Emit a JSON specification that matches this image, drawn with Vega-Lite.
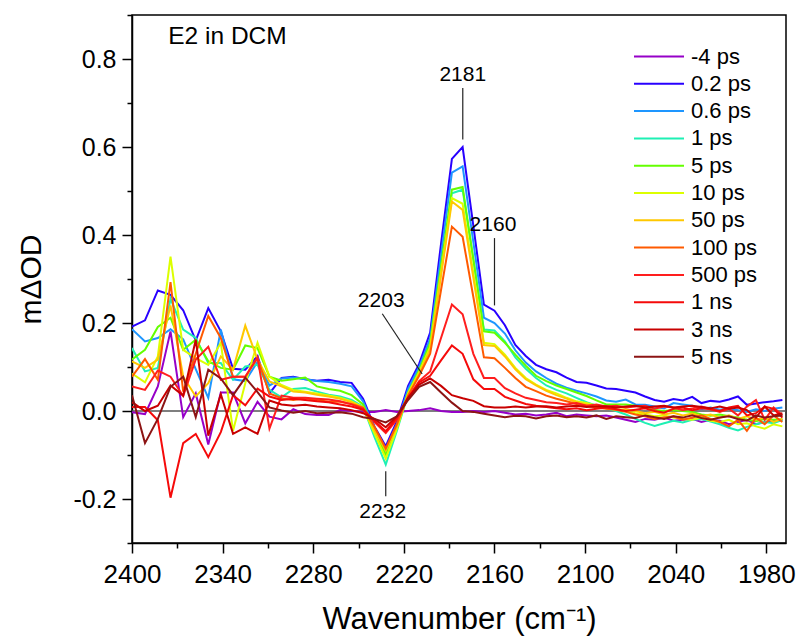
{
  "$schema": "https://vega.github.io/schema/vega-lite/v6.json",
  "width": 654,
  "height": 528,
  "autosize": {"type": "none"},
  "padding": {"left": 132, "top": 15, "right": 11, "bottom": 99},
  "background": "white",
  "config": {
    "font": "Liberation Sans",
    "view": {"stroke": "black", "strokeWidth": 1.5},
    "axis": {"grid": false, "domainColor": "black", "domainWidth": 1.5, "tickColor": "black", "tickWidth": 1.5, "labelColor": "black", "titleColor": "black", "labelFont": "Liberation Sans", "titleFont": "Liberation Sans", "titleFontWeight": "normal"}
  },
  "datasets": {
    "spectra": [
{"s":"-4 ps","x":2400,"y":-0.003},{"s":"-4 ps","x":2391.4,"y":-0.007},{"s":"-4 ps","x":2382.9,"y":0.056},{"s":"-4 ps","x":2374.5,"y":0.181},{"s":"-4 ps","x":2366.1,"y":-0.014},{"s":"-4 ps","x":2357.8,"y":0.04},{"s":"-4 ps","x":2349.5,"y":-0.076},{"s":"-4 ps","x":2341.2,"y":0.042},{"s":"-4 ps","x":2333.1,"y":0.042},{"s":"-4 ps","x":2325.0,"y":-0.028},{"s":"-4 ps","x":2316.9,"y":0.021},{"s":"-4 ps","x":2309.0,"y":-0.013},{"s":"-4 ps","x":2301.0,"y":-0.019},{"s":"-4 ps","x":2293.2,"y":0.004},{"s":"-4 ps","x":2285.3,"y":-0.007},{"s":"-4 ps","x":2277.6,"y":-0.009},{"s":"-4 ps","x":2269.8,"y":-0.009},{"s":"-4 ps","x":2262.2,"y":0.002},{"s":"-4 ps","x":2254.6,"y":0.0},{"s":"-4 ps","x":2247.0,"y":-0.002},{"s":"-4 ps","x":2239.5,"y":-0.002},{"s":"-4 ps","x":2232.0,"y":0.002},{"s":"-4 ps","x":2224.6,"y":-0.002},{"s":"-4 ps","x":2217.2,"y":0.0},{"s":"-4 ps","x":2209.9,"y":0.002},{"s":"-4 ps","x":2202.6,"y":0.006},{"s":"-4 ps","x":2195.4,"y":0.0},{"s":"-4 ps","x":2188.2,"y":-0.002},{"s":"-4 ps","x":2181.1,"y":-0.002},{"s":"-4 ps","x":2174.0,"y":0.0},{"s":"-4 ps","x":2167.0,"y":-0.002},{"s":"-4 ps","x":2160.0,"y":0.0},{"s":"-4 ps","x":2153.1,"y":-0.004},{"s":"-4 ps","x":2146.2,"y":-0.008},{"s":"-4 ps","x":2139.3,"y":-0.006},{"s":"-4 ps","x":2132.5,"y":-0.01},{"s":"-4 ps","x":2125.7,"y":-0.008},{"s":"-4 ps","x":2119.0,"y":-0.004},{"s":"-4 ps","x":2112.3,"y":-0.012},{"s":"-4 ps","x":2105.7,"y":-0.008},{"s":"-4 ps","x":2099.1,"y":-0.01},{"s":"-4 ps","x":2092.5,"y":-0.012},{"s":"-4 ps","x":2086.0,"y":-0.01},{"s":"-4 ps","x":2079.5,"y":-0.015},{"s":"-4 ps","x":2073.1,"y":-0.02},{"s":"-4 ps","x":2066.7,"y":-0.025},{"s":"-4 ps","x":2060.3,"y":-0.018},{"s":"-4 ps","x":2054.0,"y":-0.02},{"s":"-4 ps","x":2047.7,"y":-0.015},{"s":"-4 ps","x":2041.5,"y":-0.022},{"s":"-4 ps","x":2035.3,"y":-0.02},{"s":"-4 ps","x":2029.1,"y":-0.018},{"s":"-4 ps","x":2023.0,"y":-0.025},{"s":"-4 ps","x":2016.9,"y":-0.02},{"s":"-4 ps","x":2010.8,"y":-0.022},{"s":"-4 ps","x":2004.8,"y":-0.03},{"s":"-4 ps","x":1998.8,"y":-0.025},{"s":"-4 ps","x":1992.9,"y":-0.02},{"s":"-4 ps","x":1986.9,"y":-0.03},{"s":"-4 ps","x":1981.1,"y":-0.025},{"s":"-4 ps","x":1975.2,"y":-0.022},{"s":"-4 ps","x":1969.4,"y":-0.02},
{"s":"0.2 ps","x":2400,"y":0.192},{"s":"0.2 ps","x":2391.4,"y":0.206},{"s":"0.2 ps","x":2382.9,"y":0.274},{"s":"0.2 ps","x":2374.5,"y":0.264},{"s":"0.2 ps","x":2366.1,"y":0.229},{"s":"0.2 ps","x":2357.8,"y":0.16},{"s":"0.2 ps","x":2349.5,"y":0.234},{"s":"0.2 ps","x":2341.2,"y":0.181},{"s":"0.2 ps","x":2333.1,"y":0.096},{"s":"0.2 ps","x":2325.0,"y":0.094},{"s":"0.2 ps","x":2316.9,"y":0.125},{"s":"0.2 ps","x":2309.0,"y":0.04},{"s":"0.2 ps","x":2301.0,"y":0.075},{"s":"0.2 ps","x":2293.2,"y":0.078},{"s":"0.2 ps","x":2285.3,"y":0.072},{"s":"0.2 ps","x":2277.6,"y":0.069},{"s":"0.2 ps","x":2269.8,"y":0.071},{"s":"0.2 ps","x":2262.2,"y":0.066},{"s":"0.2 ps","x":2254.6,"y":0.064},{"s":"0.2 ps","x":2247.0,"y":0.028},{"s":"0.2 ps","x":2239.5,"y":-0.035},{"s":"0.2 ps","x":2232.0,"y":-0.08},{"s":"0.2 ps","x":2224.6,"y":-0.023},{"s":"0.2 ps","x":2217.2,"y":0.057},{"s":"0.2 ps","x":2209.9,"y":0.107},{"s":"0.2 ps","x":2202.6,"y":0.178},{"s":"0.2 ps","x":2195.4,"y":0.38},{"s":"0.2 ps","x":2188.2,"y":0.573},{"s":"0.2 ps","x":2181.1,"y":0.6},{"s":"0.2 ps","x":2174.0,"y":0.421},{"s":"0.2 ps","x":2167.0,"y":0.242},{"s":"0.2 ps","x":2160.0,"y":0.228},{"s":"0.2 ps","x":2153.1,"y":0.195},{"s":"0.2 ps","x":2146.2,"y":0.15},{"s":"0.2 ps","x":2139.3,"y":0.125},{"s":"0.2 ps","x":2132.5,"y":0.105},{"s":"0.2 ps","x":2125.7,"y":0.095},{"s":"0.2 ps","x":2119.0,"y":0.088},{"s":"0.2 ps","x":2112.3,"y":0.076},{"s":"0.2 ps","x":2105.7,"y":0.066},{"s":"0.2 ps","x":2099.1,"y":0.064},{"s":"0.2 ps","x":2092.5,"y":0.058},{"s":"0.2 ps","x":2086.0,"y":0.051},{"s":"0.2 ps","x":2079.5,"y":0.05},{"s":"0.2 ps","x":2073.1,"y":0.046},{"s":"0.2 ps","x":2066.7,"y":0.042},{"s":"0.2 ps","x":2060.3,"y":0.033},{"s":"0.2 ps","x":2054.0,"y":0.025},{"s":"0.2 ps","x":2047.7,"y":0.021},{"s":"0.2 ps","x":2041.5,"y":0.027},{"s":"0.2 ps","x":2035.3,"y":0.024},{"s":"0.2 ps","x":2029.1,"y":0.032},{"s":"0.2 ps","x":2023.0,"y":0.018},{"s":"0.2 ps","x":2016.9,"y":0.023},{"s":"0.2 ps","x":2010.8,"y":0.021},{"s":"0.2 ps","x":2004.8,"y":0.026},{"s":"0.2 ps","x":1998.8,"y":0.033},{"s":"0.2 ps","x":1992.9,"y":0.014},{"s":"0.2 ps","x":1986.9,"y":0.017},{"s":"0.2 ps","x":1981.1,"y":0.02},{"s":"0.2 ps","x":1975.2,"y":0.022},{"s":"0.2 ps","x":1969.4,"y":0.025},
{"s":"0.6 ps","x":2400,"y":0.186},{"s":"0.6 ps","x":2391.4,"y":0.158},{"s":"0.6 ps","x":2382.9,"y":0.166},{"s":"0.6 ps","x":2374.5,"y":0.186},{"s":"0.6 ps","x":2366.1,"y":0.163},{"s":"0.6 ps","x":2357.8,"y":0.095},{"s":"0.6 ps","x":2349.5,"y":0.03},{"s":"0.6 ps","x":2341.2,"y":0.185},{"s":"0.6 ps","x":2333.1,"y":0.072},{"s":"0.6 ps","x":2325.0,"y":0.068},{"s":"0.6 ps","x":2316.9,"y":0.112},{"s":"0.6 ps","x":2309.0,"y":0.058},{"s":"0.6 ps","x":2301.0,"y":0.074},{"s":"0.6 ps","x":2293.2,"y":0.076},{"s":"0.6 ps","x":2285.3,"y":0.072},{"s":"0.6 ps","x":2277.6,"y":0.068},{"s":"0.6 ps","x":2269.8,"y":0.066},{"s":"0.6 ps","x":2262.2,"y":0.062},{"s":"0.6 ps","x":2254.6,"y":0.056},{"s":"0.6 ps","x":2247.0,"y":0.022},{"s":"0.6 ps","x":2239.5,"y":-0.038},{"s":"0.6 ps","x":2232.0,"y":-0.09},{"s":"0.6 ps","x":2224.6,"y":-0.03},{"s":"0.6 ps","x":2217.2,"y":0.05},{"s":"0.6 ps","x":2209.9,"y":0.1},{"s":"0.6 ps","x":2202.6,"y":0.165},{"s":"0.6 ps","x":2195.4,"y":0.354},{"s":"0.6 ps","x":2188.2,"y":0.542},{"s":"0.6 ps","x":2181.1,"y":0.556},{"s":"0.6 ps","x":2174.0,"y":0.384},{"s":"0.6 ps","x":2167.0,"y":0.212},{"s":"0.6 ps","x":2160.0,"y":0.2},{"s":"0.6 ps","x":2153.1,"y":0.176},{"s":"0.6 ps","x":2146.2,"y":0.138},{"s":"0.6 ps","x":2139.3,"y":0.11},{"s":"0.6 ps","x":2132.5,"y":0.09},{"s":"0.6 ps","x":2125.7,"y":0.075},{"s":"0.6 ps","x":2119.0,"y":0.062},{"s":"0.6 ps","x":2112.3,"y":0.053},{"s":"0.6 ps","x":2105.7,"y":0.046},{"s":"0.6 ps","x":2099.1,"y":0.04},{"s":"0.6 ps","x":2092.5,"y":0.033},{"s":"0.6 ps","x":2086.0,"y":0.024},{"s":"0.6 ps","x":2079.5,"y":0.021},{"s":"0.6 ps","x":2073.1,"y":0.026},{"s":"0.6 ps","x":2066.7,"y":0.015},{"s":"0.6 ps","x":2060.3,"y":0.014},{"s":"0.6 ps","x":2054.0,"y":0.01},{"s":"0.6 ps","x":2047.7,"y":0.006},{"s":"0.6 ps","x":2041.5,"y":0.018},{"s":"0.6 ps","x":2035.3,"y":0.015},{"s":"0.6 ps","x":2029.1,"y":0.012},{"s":"0.6 ps","x":2023.0,"y":0.004},{"s":"0.6 ps","x":2016.9,"y":0.008},{"s":"0.6 ps","x":2010.8,"y":0.003},{"s":"0.6 ps","x":2004.8,"y":0.006},{"s":"0.6 ps","x":1998.8,"y":0.002},{"s":"0.6 ps","x":1992.9,"y":-0.002},{"s":"0.6 ps","x":1986.9,"y":0.004},{"s":"0.6 ps","x":1981.1,"y":0.0},{"s":"0.6 ps","x":1975.2,"y":0.005},{"s":"0.6 ps","x":1969.4,"y":0.008},
{"s":"1 ps","x":2400,"y":0.143},{"s":"1 ps","x":2391.4,"y":0.09},{"s":"1 ps","x":2382.9,"y":0.098},{"s":"1 ps","x":2374.5,"y":0.255},{"s":"1 ps","x":2366.1,"y":0.185},{"s":"1 ps","x":2357.8,"y":0.166},{"s":"1 ps","x":2349.5,"y":0.109},{"s":"1 ps","x":2341.2,"y":0.109},{"s":"1 ps","x":2333.1,"y":0.071},{"s":"1 ps","x":2325.0,"y":0.101},{"s":"1 ps","x":2316.9,"y":0.105},{"s":"1 ps","x":2309.0,"y":0.048},{"s":"1 ps","x":2301.0,"y":0.031},{"s":"1 ps","x":2293.2,"y":0.05},{"s":"1 ps","x":2285.3,"y":0.052},{"s":"1 ps","x":2277.6,"y":0.044},{"s":"1 ps","x":2269.8,"y":0.037},{"s":"1 ps","x":2262.2,"y":0.033},{"s":"1 ps","x":2254.6,"y":0.025},{"s":"1 ps","x":2247.0,"y":0.01},{"s":"1 ps","x":2239.5,"y":-0.059},{"s":"1 ps","x":2232.0,"y":-0.122},{"s":"1 ps","x":2224.6,"y":-0.045},{"s":"1 ps","x":2217.2,"y":0.038},{"s":"1 ps","x":2209.9,"y":0.088},{"s":"1 ps","x":2202.6,"y":0.15},{"s":"1 ps","x":2195.4,"y":0.322},{"s":"1 ps","x":2188.2,"y":0.495},{"s":"1 ps","x":2181.1,"y":0.503},{"s":"1 ps","x":2174.0,"y":0.344},{"s":"1 ps","x":2167.0,"y":0.185},{"s":"1 ps","x":2160.0,"y":0.183},{"s":"1 ps","x":2153.1,"y":0.158},{"s":"1 ps","x":2146.2,"y":0.122},{"s":"1 ps","x":2139.3,"y":0.096},{"s":"1 ps","x":2132.5,"y":0.075},{"s":"1 ps","x":2125.7,"y":0.058},{"s":"1 ps","x":2119.0,"y":0.048},{"s":"1 ps","x":2112.3,"y":0.04},{"s":"1 ps","x":2105.7,"y":0.03},{"s":"1 ps","x":2099.1,"y":0.02},{"s":"1 ps","x":2092.5,"y":0.012},{"s":"1 ps","x":2086.0,"y":0.006},{"s":"1 ps","x":2079.5,"y":0.0},{"s":"1 ps","x":2073.1,"y":-0.008},{"s":"1 ps","x":2066.7,"y":-0.018},{"s":"1 ps","x":2060.3,"y":-0.027},{"s":"1 ps","x":2054.0,"y":-0.034},{"s":"1 ps","x":2047.7,"y":-0.028},{"s":"1 ps","x":2041.5,"y":-0.022},{"s":"1 ps","x":2035.3,"y":-0.026},{"s":"1 ps","x":2029.1,"y":-0.02},{"s":"1 ps","x":2023.0,"y":-0.018},{"s":"1 ps","x":2016.9,"y":-0.024},{"s":"1 ps","x":2010.8,"y":-0.03},{"s":"1 ps","x":2004.8,"y":-0.038},{"s":"1 ps","x":1998.8,"y":-0.044},{"s":"1 ps","x":1992.9,"y":-0.036},{"s":"1 ps","x":1986.9,"y":-0.03},{"s":"1 ps","x":1981.1,"y":-0.025},{"s":"1 ps","x":1975.2,"y":-0.028},{"s":"1 ps","x":1969.4,"y":-0.02},
{"s":"5 ps","x":2400,"y":0.117},{"s":"5 ps","x":2391.4,"y":0.139},{"s":"5 ps","x":2382.9,"y":0.191},{"s":"5 ps","x":2374.5,"y":0.212},{"s":"5 ps","x":2366.1,"y":0.139},{"s":"5 ps","x":2357.8,"y":0.162},{"s":"5 ps","x":2349.5,"y":0.113},{"s":"5 ps","x":2341.2,"y":0.098},{"s":"5 ps","x":2333.1,"y":0.094},{"s":"5 ps","x":2325.0,"y":0.149},{"s":"5 ps","x":2316.9,"y":0.143},{"s":"5 ps","x":2309.0,"y":0.078},{"s":"5 ps","x":2301.0,"y":0.069},{"s":"5 ps","x":2293.2,"y":0.072},{"s":"5 ps","x":2285.3,"y":0.076},{"s":"5 ps","x":2277.6,"y":0.056},{"s":"5 ps","x":2269.8,"y":0.05},{"s":"5 ps","x":2262.2,"y":0.046},{"s":"5 ps","x":2254.6,"y":0.036},{"s":"5 ps","x":2247.0,"y":0.015},{"s":"5 ps","x":2239.5,"y":-0.043},{"s":"5 ps","x":2232.0,"y":-0.1},{"s":"5 ps","x":2224.6,"y":-0.038},{"s":"5 ps","x":2217.2,"y":0.042},{"s":"5 ps","x":2209.9,"y":0.092},{"s":"5 ps","x":2202.6,"y":0.155},{"s":"5 ps","x":2195.4,"y":0.33},{"s":"5 ps","x":2188.2,"y":0.503},{"s":"5 ps","x":2181.1,"y":0.509},{"s":"5 ps","x":2174.0,"y":0.345},{"s":"5 ps","x":2167.0,"y":0.181},{"s":"5 ps","x":2160.0,"y":0.178},{"s":"5 ps","x":2153.1,"y":0.155},{"s":"5 ps","x":2146.2,"y":0.128},{"s":"5 ps","x":2139.3,"y":0.103},{"s":"5 ps","x":2132.5,"y":0.08},{"s":"5 ps","x":2125.7,"y":0.068},{"s":"5 ps","x":2119.0,"y":0.058},{"s":"5 ps","x":2112.3,"y":0.05},{"s":"5 ps","x":2105.7,"y":0.042},{"s":"5 ps","x":2099.1,"y":0.034},{"s":"5 ps","x":2092.5,"y":0.024},{"s":"5 ps","x":2086.0,"y":0.015},{"s":"5 ps","x":2079.5,"y":0.015},{"s":"5 ps","x":2073.1,"y":0.015},{"s":"5 ps","x":2066.7,"y":0.012},{"s":"5 ps","x":2060.3,"y":0.008},{"s":"5 ps","x":2054.0,"y":0.002},{"s":"5 ps","x":2047.7,"y":0.0},{"s":"5 ps","x":2041.5,"y":0.002},{"s":"5 ps","x":2035.3,"y":0.0},{"s":"5 ps","x":2029.1,"y":-0.002},{"s":"5 ps","x":2023.0,"y":-0.008},{"s":"5 ps","x":2016.9,"y":-0.011},{"s":"5 ps","x":2010.8,"y":-0.008},{"s":"5 ps","x":2004.8,"y":-0.012},{"s":"5 ps","x":1998.8,"y":-0.015},{"s":"5 ps","x":1992.9,"y":-0.02},{"s":"5 ps","x":1986.9,"y":-0.023},{"s":"5 ps","x":1981.1,"y":-0.018},{"s":"5 ps","x":1975.2,"y":-0.02},{"s":"5 ps","x":1969.4,"y":-0.019},
{"s":"10 ps","x":2400,"y":0.085},{"s":"10 ps","x":2391.4,"y":0.065},{"s":"10 ps","x":2382.9,"y":0.124},{"s":"10 ps","x":2374.5,"y":0.351},{"s":"10 ps","x":2366.1,"y":0.139},{"s":"10 ps","x":2357.8,"y":0.12},{"s":"10 ps","x":2349.5,"y":0.105},{"s":"10 ps","x":2341.2,"y":0.155},{"s":"10 ps","x":2333.1,"y":-0.045},{"s":"10 ps","x":2325.0,"y":0.063},{"s":"10 ps","x":2316.9,"y":0.155},{"s":"10 ps","x":2309.0,"y":0.078},{"s":"10 ps","x":2301.0,"y":0.059},{"s":"10 ps","x":2293.2,"y":0.048},{"s":"10 ps","x":2285.3,"y":0.044},{"s":"10 ps","x":2277.6,"y":0.04},{"s":"10 ps","x":2269.8,"y":0.035},{"s":"10 ps","x":2262.2,"y":0.03},{"s":"10 ps","x":2254.6,"y":0.022},{"s":"10 ps","x":2247.0,"y":0.008},{"s":"10 ps","x":2239.5,"y":-0.051},{"s":"10 ps","x":2232.0,"y":-0.108},{"s":"10 ps","x":2224.6,"y":-0.04},{"s":"10 ps","x":2217.2,"y":0.04},{"s":"10 ps","x":2209.9,"y":0.088},{"s":"10 ps","x":2202.6,"y":0.145},{"s":"10 ps","x":2195.4,"y":0.314},{"s":"10 ps","x":2188.2,"y":0.484},{"s":"10 ps","x":2181.1,"y":0.471},{"s":"10 ps","x":2174.0,"y":0.313},{"s":"10 ps","x":2167.0,"y":0.155},{"s":"10 ps","x":2160.0,"y":0.152},{"s":"10 ps","x":2153.1,"y":0.128},{"s":"10 ps","x":2146.2,"y":0.098},{"s":"10 ps","x":2139.3,"y":0.075},{"s":"10 ps","x":2132.5,"y":0.06},{"s":"10 ps","x":2125.7,"y":0.048},{"s":"10 ps","x":2119.0,"y":0.04},{"s":"10 ps","x":2112.3,"y":0.03},{"s":"10 ps","x":2105.7,"y":0.022},{"s":"10 ps","x":2099.1,"y":0.018},{"s":"10 ps","x":2092.5,"y":0.012},{"s":"10 ps","x":2086.0,"y":0.008},{"s":"10 ps","x":2079.5,"y":0.004},{"s":"10 ps","x":2073.1,"y":0.0},{"s":"10 ps","x":2066.7,"y":-0.005},{"s":"10 ps","x":2060.3,"y":-0.008},{"s":"10 ps","x":2054.0,"y":-0.012},{"s":"10 ps","x":2047.7,"y":-0.01},{"s":"10 ps","x":2041.5,"y":-0.015},{"s":"10 ps","x":2035.3,"y":-0.018},{"s":"10 ps","x":2029.1,"y":-0.02},{"s":"10 ps","x":2023.0,"y":-0.015},{"s":"10 ps","x":2016.9,"y":-0.022},{"s":"10 ps","x":2010.8,"y":-0.025},{"s":"10 ps","x":2004.8,"y":-0.02},{"s":"10 ps","x":1998.8,"y":-0.03},{"s":"10 ps","x":1992.9,"y":-0.028},{"s":"10 ps","x":1986.9,"y":-0.035},{"s":"10 ps","x":1981.1,"y":-0.04},{"s":"10 ps","x":1975.2,"y":-0.03},{"s":"10 ps","x":1969.4,"y":-0.035},
{"s":"50 ps","x":2400,"y":0.113},{"s":"50 ps","x":2391.4,"y":0.098},{"s":"50 ps","x":2382.9,"y":0.117},{"s":"50 ps","x":2374.5,"y":0.24},{"s":"50 ps","x":2366.1,"y":0.078},{"s":"50 ps","x":2357.8,"y":0.033},{"s":"50 ps","x":2349.5,"y":0.063},{"s":"50 ps","x":2341.2,"y":0.124},{"s":"50 ps","x":2333.1,"y":0.094},{"s":"50 ps","x":2325.0,"y":0.194},{"s":"50 ps","x":2316.9,"y":0.117},{"s":"50 ps","x":2309.0,"y":0.067},{"s":"50 ps","x":2301.0,"y":0.056},{"s":"50 ps","x":2293.2,"y":0.044},{"s":"50 ps","x":2285.3,"y":0.042},{"s":"50 ps","x":2277.6,"y":0.037},{"s":"50 ps","x":2269.8,"y":0.033},{"s":"50 ps","x":2262.2,"y":0.028},{"s":"50 ps","x":2254.6,"y":0.02},{"s":"50 ps","x":2247.0,"y":0.008},{"s":"50 ps","x":2239.5,"y":-0.043},{"s":"50 ps","x":2232.0,"y":-0.09},{"s":"50 ps","x":2224.6,"y":-0.035},{"s":"50 ps","x":2217.2,"y":0.038},{"s":"50 ps","x":2209.9,"y":0.085},{"s":"50 ps","x":2202.6,"y":0.14},{"s":"50 ps","x":2195.4,"y":0.308},{"s":"50 ps","x":2188.2,"y":0.476},{"s":"50 ps","x":2181.1,"y":0.457},{"s":"50 ps","x":2174.0,"y":0.303},{"s":"50 ps","x":2167.0,"y":0.15},{"s":"50 ps","x":2160.0,"y":0.148},{"s":"50 ps","x":2153.1,"y":0.124},{"s":"50 ps","x":2146.2,"y":0.095},{"s":"50 ps","x":2139.3,"y":0.072},{"s":"50 ps","x":2132.5,"y":0.058},{"s":"50 ps","x":2125.7,"y":0.046},{"s":"50 ps","x":2119.0,"y":0.036},{"s":"50 ps","x":2112.3,"y":0.028},{"s":"50 ps","x":2105.7,"y":0.02},{"s":"50 ps","x":2099.1,"y":0.015},{"s":"50 ps","x":2092.5,"y":0.01},{"s":"50 ps","x":2086.0,"y":0.006},{"s":"50 ps","x":2079.5,"y":0.003},{"s":"50 ps","x":2073.1,"y":0.004},{"s":"50 ps","x":2066.7,"y":0.0},{"s":"50 ps","x":2060.3,"y":-0.005},{"s":"50 ps","x":2054.0,"y":-0.002},{"s":"50 ps","x":2047.7,"y":-0.008},{"s":"50 ps","x":2041.5,"y":-0.004},{"s":"50 ps","x":2035.3,"y":-0.01},{"s":"50 ps","x":2029.1,"y":-0.006},{"s":"50 ps","x":2023.0,"y":-0.012},{"s":"50 ps","x":2016.9,"y":-0.008},{"s":"50 ps","x":2010.8,"y":-0.015},{"s":"50 ps","x":2004.8,"y":-0.01},{"s":"50 ps","x":1998.8,"y":-0.018},{"s":"50 ps","x":1992.9,"y":-0.012},{"s":"50 ps","x":1986.9,"y":-0.02},{"s":"50 ps","x":1981.1,"y":-0.015},{"s":"50 ps","x":1975.2,"y":-0.025},{"s":"50 ps","x":1969.4,"y":-0.018},
{"s":"100 ps","x":2400,"y":0.078},{"s":"100 ps","x":2391.4,"y":0.118},{"s":"100 ps","x":2382.9,"y":0.071},{"s":"100 ps","x":2374.5,"y":0.293},{"s":"100 ps","x":2366.1,"y":0.044},{"s":"100 ps","x":2357.8,"y":0.13},{"s":"100 ps","x":2349.5,"y":0.216},{"s":"100 ps","x":2341.2,"y":0.166},{"s":"100 ps","x":2333.1,"y":0.078},{"s":"100 ps","x":2325.0,"y":0.078},{"s":"100 ps","x":2316.9,"y":0.12},{"s":"100 ps","x":2309.0,"y":0.04},{"s":"100 ps","x":2301.0,"y":0.029},{"s":"100 ps","x":2293.2,"y":0.025},{"s":"100 ps","x":2285.3,"y":0.029},{"s":"100 ps","x":2277.6,"y":0.025},{"s":"100 ps","x":2269.8,"y":0.021},{"s":"100 ps","x":2262.2,"y":0.021},{"s":"100 ps","x":2254.6,"y":0.016},{"s":"100 ps","x":2247.0,"y":0.008},{"s":"100 ps","x":2239.5,"y":-0.036},{"s":"100 ps","x":2232.0,"y":-0.085},{"s":"100 ps","x":2224.6,"y":-0.03},{"s":"100 ps","x":2217.2,"y":0.035},{"s":"100 ps","x":2209.9,"y":0.08},{"s":"100 ps","x":2202.6,"y":0.13},{"s":"100 ps","x":2195.4,"y":0.275},{"s":"100 ps","x":2188.2,"y":0.419},{"s":"100 ps","x":2181.1,"y":0.396},{"s":"100 ps","x":2174.0,"y":0.259},{"s":"100 ps","x":2167.0,"y":0.122},{"s":"100 ps","x":2160.0,"y":0.12},{"s":"100 ps","x":2153.1,"y":0.098},{"s":"100 ps","x":2146.2,"y":0.075},{"s":"100 ps","x":2139.3,"y":0.055},{"s":"100 ps","x":2132.5,"y":0.045},{"s":"100 ps","x":2125.7,"y":0.035},{"s":"100 ps","x":2119.0,"y":0.028},{"s":"100 ps","x":2112.3,"y":0.022},{"s":"100 ps","x":2105.7,"y":0.016},{"s":"100 ps","x":2099.1,"y":0.012},{"s":"100 ps","x":2092.5,"y":0.008},{"s":"100 ps","x":2086.0,"y":0.005},{"s":"100 ps","x":2079.5,"y":0.003},{"s":"100 ps","x":2073.1,"y":-0.002},{"s":"100 ps","x":2066.7,"y":-0.008},{"s":"100 ps","x":2060.3,"y":-0.012},{"s":"100 ps","x":2054.0,"y":-0.018},{"s":"100 ps","x":2047.7,"y":-0.015},{"s":"100 ps","x":2041.5,"y":-0.012},{"s":"100 ps","x":2035.3,"y":-0.02},{"s":"100 ps","x":2029.1,"y":-0.015},{"s":"100 ps","x":2023.0,"y":-0.01},{"s":"100 ps","x":2016.9,"y":-0.018},{"s":"100 ps","x":2010.8,"y":-0.025},{"s":"100 ps","x":2004.8,"y":-0.035},{"s":"100 ps","x":1998.8,"y":-0.02},{"s":"100 ps","x":1992.9,"y":-0.045},{"s":"100 ps","x":1986.9,"y":-0.015},{"s":"100 ps","x":1981.1,"y":-0.03},{"s":"100 ps","x":1975.2,"y":-0.01},{"s":"100 ps","x":1969.4,"y":-0.025},
{"s":"500 ps","x":2400,"y":0.056},{"s":"500 ps","x":2391.4,"y":0.048},{"s":"500 ps","x":2382.9,"y":0.092},{"s":"500 ps","x":2374.5,"y":0.078},{"s":"500 ps","x":2366.1,"y":0.034},{"s":"500 ps","x":2357.8,"y":0.117},{"s":"500 ps","x":2349.5,"y":0.146},{"s":"500 ps","x":2341.2,"y":0.071},{"s":"500 ps","x":2333.1,"y":0.078},{"s":"500 ps","x":2325.0,"y":0.078},{"s":"500 ps","x":2316.9,"y":0.122},{"s":"500 ps","x":2309.0,"y":-0.04},{"s":"500 ps","x":2301.0,"y":0.035},{"s":"500 ps","x":2293.2,"y":0.03},{"s":"500 ps","x":2285.3,"y":0.03},{"s":"500 ps","x":2277.6,"y":0.028},{"s":"500 ps","x":2269.8,"y":0.026},{"s":"500 ps","x":2262.2,"y":0.022},{"s":"500 ps","x":2254.6,"y":0.015},{"s":"500 ps","x":2247.0,"y":0.005},{"s":"500 ps","x":2239.5,"y":-0.025},{"s":"500 ps","x":2232.0,"y":-0.05},{"s":"500 ps","x":2224.6,"y":-0.02},{"s":"500 ps","x":2217.2,"y":0.03},{"s":"500 ps","x":2209.9,"y":0.068},{"s":"500 ps","x":2202.6,"y":0.09},{"s":"500 ps","x":2195.4,"y":0.166},{"s":"500 ps","x":2188.2,"y":0.242},{"s":"500 ps","x":2181.1,"y":0.22},{"s":"500 ps","x":2174.0,"y":0.13},{"s":"500 ps","x":2167.0,"y":0.075},{"s":"500 ps","x":2160.0,"y":0.075},{"s":"500 ps","x":2153.1,"y":0.052},{"s":"500 ps","x":2146.2,"y":0.04},{"s":"500 ps","x":2139.3,"y":0.03},{"s":"500 ps","x":2132.5,"y":0.025},{"s":"500 ps","x":2125.7,"y":0.02},{"s":"500 ps","x":2119.0,"y":0.018},{"s":"500 ps","x":2112.3,"y":0.015},{"s":"500 ps","x":2105.7,"y":0.018},{"s":"500 ps","x":2099.1,"y":0.012},{"s":"500 ps","x":2092.5,"y":0.015},{"s":"500 ps","x":2086.0,"y":0.01},{"s":"500 ps","x":2079.5,"y":0.012},{"s":"500 ps","x":2073.1,"y":0.008},{"s":"500 ps","x":2066.7,"y":0.01},{"s":"500 ps","x":2060.3,"y":0.012},{"s":"500 ps","x":2054.0,"y":0.005},{"s":"500 ps","x":2047.7,"y":0.01},{"s":"500 ps","x":2041.5,"y":0.008},{"s":"500 ps","x":2035.3,"y":0.002},{"s":"500 ps","x":2029.1,"y":0.006},{"s":"500 ps","x":2023.0,"y":0.01},{"s":"500 ps","x":2016.9,"y":0.004},{"s":"500 ps","x":2010.8,"y":-0.002},{"s":"500 ps","x":2004.8,"y":0.005},{"s":"500 ps","x":1998.8,"y":-0.01},{"s":"500 ps","x":1992.9,"y":0.01},{"s":"500 ps","x":1986.9,"y":0.025},{"s":"500 ps","x":1981.1,"y":-0.02},{"s":"500 ps","x":1975.2,"y":0.008},{"s":"500 ps","x":1969.4,"y":-0.01},
{"s":"1 ns","x":2400,"y":0.009},{"s":"1 ns","x":2391.4,"y":0.009},{"s":"1 ns","x":2382.9,"y":-0.021},{"s":"1 ns","x":2374.5,"y":-0.197},{"s":"1 ns","x":2366.1,"y":-0.073},{"s":"1 ns","x":2357.8,"y":-0.052},{"s":"1 ns","x":2349.5,"y":-0.105},{"s":"1 ns","x":2341.2,"y":-0.048},{"s":"1 ns","x":2333.1,"y":0.036},{"s":"1 ns","x":2325.0,"y":0.013},{"s":"1 ns","x":2316.9,"y":0.051},{"s":"1 ns","x":2309.0,"y":0.033},{"s":"1 ns","x":2301.0,"y":0.025},{"s":"1 ns","x":2293.2,"y":0.028},{"s":"1 ns","x":2285.3,"y":0.025},{"s":"1 ns","x":2277.6,"y":0.022},{"s":"1 ns","x":2269.8,"y":0.02},{"s":"1 ns","x":2262.2,"y":0.015},{"s":"1 ns","x":2254.6,"y":0.01},{"s":"1 ns","x":2247.0,"y":0.003},{"s":"1 ns","x":2239.5,"y":-0.022},{"s":"1 ns","x":2232.0,"y":-0.046},{"s":"1 ns","x":2224.6,"y":-0.015},{"s":"1 ns","x":2217.2,"y":0.03},{"s":"1 ns","x":2209.9,"y":0.065},{"s":"1 ns","x":2202.6,"y":0.08},{"s":"1 ns","x":2195.4,"y":0.115},{"s":"1 ns","x":2188.2,"y":0.149},{"s":"1 ns","x":2181.1,"y":0.13},{"s":"1 ns","x":2174.0,"y":0.072},{"s":"1 ns","x":2167.0,"y":0.05},{"s":"1 ns","x":2160.0,"y":0.05},{"s":"1 ns","x":2153.1,"y":0.032},{"s":"1 ns","x":2146.2,"y":0.024},{"s":"1 ns","x":2139.3,"y":0.016},{"s":"1 ns","x":2132.5,"y":0.012},{"s":"1 ns","x":2125.7,"y":0.009},{"s":"1 ns","x":2119.0,"y":0.006},{"s":"1 ns","x":2112.3,"y":0.004},{"s":"1 ns","x":2105.7,"y":0.006},{"s":"1 ns","x":2099.1,"y":0.002},{"s":"1 ns","x":2092.5,"y":0.005},{"s":"1 ns","x":2086.0,"y":0.008},{"s":"1 ns","x":2079.5,"y":0.004},{"s":"1 ns","x":2073.1,"y":0.0},{"s":"1 ns","x":2066.7,"y":0.003},{"s":"1 ns","x":2060.3,"y":0.006},{"s":"1 ns","x":2054.0,"y":0.0},{"s":"1 ns","x":2047.7,"y":-0.004},{"s":"1 ns","x":2041.5,"y":0.005},{"s":"1 ns","x":2035.3,"y":0.008},{"s":"1 ns","x":2029.1,"y":0.002},{"s":"1 ns","x":2023.0,"y":0.006},{"s":"1 ns","x":2016.9,"y":0.004},{"s":"1 ns","x":2010.8,"y":0.0},{"s":"1 ns","x":2004.8,"y":0.008},{"s":"1 ns","x":1998.8,"y":0.012},{"s":"1 ns","x":1992.9,"y":-0.01},{"s":"1 ns","x":1986.9,"y":-0.005},{"s":"1 ns","x":1981.1,"y":0.01},{"s":"1 ns","x":1975.2,"y":0.005},{"s":"1 ns","x":1969.4,"y":-0.015},
{"s":"3 ns","x":2400,"y":0.02},{"s":"3 ns","x":2391.4,"y":0.0},{"s":"3 ns","x":2382.9,"y":0.012},{"s":"3 ns","x":2374.5,"y":0.058},{"s":"3 ns","x":2366.1,"y":0.035},{"s":"3 ns","x":2357.8,"y":0.162},{"s":"3 ns","x":2349.5,"y":-0.056},{"s":"3 ns","x":2341.2,"y":0.038},{"s":"3 ns","x":2333.1,"y":-0.052},{"s":"3 ns","x":2325.0,"y":-0.037},{"s":"3 ns","x":2316.9,"y":-0.052},{"s":"3 ns","x":2309.0,"y":0.024},{"s":"3 ns","x":2301.0,"y":0.015},{"s":"3 ns","x":2293.2,"y":0.012},{"s":"3 ns","x":2285.3,"y":0.014},{"s":"3 ns","x":2277.6,"y":0.01},{"s":"3 ns","x":2269.8,"y":0.008},{"s":"3 ns","x":2262.2,"y":0.006},{"s":"3 ns","x":2254.6,"y":0.002},{"s":"3 ns","x":2247.0,"y":-0.005},{"s":"3 ns","x":2239.5,"y":-0.018},{"s":"3 ns","x":2232.0,"y":-0.037},{"s":"3 ns","x":2224.6,"y":-0.012},{"s":"3 ns","x":2217.2,"y":0.03},{"s":"3 ns","x":2209.9,"y":0.06},{"s":"3 ns","x":2202.6,"y":0.074},{"s":"3 ns","x":2195.4,"y":0.057},{"s":"3 ns","x":2188.2,"y":0.036},{"s":"3 ns","x":2181.1,"y":0.029},{"s":"3 ns","x":2174.0,"y":0.023},{"s":"3 ns","x":2167.0,"y":0.011},{"s":"3 ns","x":2160.0,"y":0.008},{"s":"3 ns","x":2153.1,"y":0.008},{"s":"3 ns","x":2146.2,"y":0.01},{"s":"3 ns","x":2139.3,"y":0.008},{"s":"3 ns","x":2132.5,"y":0.01},{"s":"3 ns","x":2125.7,"y":0.011},{"s":"3 ns","x":2119.0,"y":0.008},{"s":"3 ns","x":2112.3,"y":0.01},{"s":"3 ns","x":2105.7,"y":0.012},{"s":"3 ns","x":2099.1,"y":0.009},{"s":"3 ns","x":2092.5,"y":0.01},{"s":"3 ns","x":2086.0,"y":0.011},{"s":"3 ns","x":2079.5,"y":0.008},{"s":"3 ns","x":2073.1,"y":0.01},{"s":"3 ns","x":2066.7,"y":0.012},{"s":"3 ns","x":2060.3,"y":0.008},{"s":"3 ns","x":2054.0,"y":0.01},{"s":"3 ns","x":2047.7,"y":0.012},{"s":"3 ns","x":2041.5,"y":0.008},{"s":"3 ns","x":2035.3,"y":0.01},{"s":"3 ns","x":2029.1,"y":0.012},{"s":"3 ns","x":2023.0,"y":0.009},{"s":"3 ns","x":2016.9,"y":0.006},{"s":"3 ns","x":2010.8,"y":0.01},{"s":"3 ns","x":2004.8,"y":0.005},{"s":"3 ns","x":1998.8,"y":0.008},{"s":"3 ns","x":1992.9,"y":0.002},{"s":"3 ns","x":1986.9,"y":-0.015},{"s":"3 ns","x":1981.1,"y":0.01},{"s":"3 ns","x":1975.2,"y":-0.01},{"s":"3 ns","x":1969.4,"y":-0.005},
{"s":"5 ns","x":2400,"y":0.036},{"s":"5 ns","x":2391.4,"y":-0.073},{"s":"5 ns","x":2382.9,"y":-0.018},{"s":"5 ns","x":2374.5,"y":0.055},{"s":"5 ns","x":2366.1,"y":0.078},{"s":"5 ns","x":2357.8,"y":-0.014},{"s":"5 ns","x":2349.5,"y":0.094},{"s":"5 ns","x":2341.2,"y":0.074},{"s":"5 ns","x":2333.1,"y":0.036},{"s":"5 ns","x":2325.0,"y":0.076},{"s":"5 ns","x":2316.9,"y":0.043},{"s":"5 ns","x":2309.0,"y":0.008},{"s":"5 ns","x":2301.0,"y":0.001},{"s":"5 ns","x":2293.2,"y":-0.004},{"s":"5 ns","x":2285.3,"y":0.0},{"s":"5 ns","x":2277.6,"y":-0.005},{"s":"5 ns","x":2269.8,"y":-0.004},{"s":"5 ns","x":2262.2,"y":-0.003},{"s":"5 ns","x":2254.6,"y":-0.006},{"s":"5 ns","x":2247.0,"y":-0.014},{"s":"5 ns","x":2239.5,"y":-0.018},{"s":"5 ns","x":2232.0,"y":-0.026},{"s":"5 ns","x":2224.6,"y":-0.012},{"s":"5 ns","x":2217.2,"y":0.025},{"s":"5 ns","x":2209.9,"y":0.055},{"s":"5 ns","x":2202.6,"y":0.066},{"s":"5 ns","x":2195.4,"y":0.042},{"s":"5 ns","x":2188.2,"y":0.019},{"s":"5 ns","x":2181.1,"y":0.0},{"s":"5 ns","x":2174.0,"y":-0.002},{"s":"5 ns","x":2167.0,"y":-0.006},{"s":"5 ns","x":2160.0,"y":-0.01},{"s":"5 ns","x":2153.1,"y":-0.014},{"s":"5 ns","x":2146.2,"y":-0.011},{"s":"5 ns","x":2139.3,"y":-0.012},{"s":"5 ns","x":2132.5,"y":-0.017},{"s":"5 ns","x":2125.7,"y":-0.012},{"s":"5 ns","x":2119.0,"y":-0.01},{"s":"5 ns","x":2112.3,"y":-0.014},{"s":"5 ns","x":2105.7,"y":-0.012},{"s":"5 ns","x":2099.1,"y":-0.015},{"s":"5 ns","x":2092.5,"y":-0.01},{"s":"5 ns","x":2086.0,"y":-0.018},{"s":"5 ns","x":2079.5,"y":-0.012},{"s":"5 ns","x":2073.1,"y":-0.014},{"s":"5 ns","x":2066.7,"y":-0.016},{"s":"5 ns","x":2060.3,"y":-0.01},{"s":"5 ns","x":2054.0,"y":-0.014},{"s":"5 ns","x":2047.7,"y":-0.018},{"s":"5 ns","x":2041.5,"y":-0.012},{"s":"5 ns","x":2035.3,"y":-0.015},{"s":"5 ns","x":2029.1,"y":-0.01},{"s":"5 ns","x":2023.0,"y":-0.016},{"s":"5 ns","x":2016.9,"y":-0.02},{"s":"5 ns","x":2010.8,"y":-0.015},{"s":"5 ns","x":2004.8,"y":-0.012},{"s":"5 ns","x":1998.8,"y":-0.018},{"s":"5 ns","x":1992.9,"y":-0.022},{"s":"5 ns","x":1986.9,"y":-0.01},{"s":"5 ns","x":1981.1,"y":-0.015},{"s":"5 ns","x":1975.2,"y":-0.012},{"s":"5 ns","x":1969.4,"y":-0.01}
    ],
    "leaders": [
      {"x": 2181, "x2": 2181, "y": 0.734, "y2": 0.617},
      {"x": 2160, "x2": 2160, "y": 0.393, "y2": 0.24},
      {"x": 2234.3, "x2": 2207.9, "y": 0.221, "y2": 0.084},
      {"x": 2232, "x2": 2232, "y": -0.137, "y2": -0.194}
    ],
    "peaks": [
      {"x": 2181, "y": 0.763, "t": "2181"},
      {"x": 2161, "y": 0.423, "t": "2160"},
      {"x": 2235, "y": 0.251, "t": "2203"},
      {"x": 2234, "y": -0.229, "t": "2232"}
    ],
    "title": [{"x": 2376, "y": 0.849, "t": "E2 in DCM"}]
  },
  "layer": [
    {
      "data": {"values": [{"z": 0}]},
      "mark": {"type": "rule", "color": "#555555", "strokeWidth": 1.5},
      "encoding": {
        "y": {"field": "z", "type": "quantitative", "title": "mΔOD", "scale": {"domain": [-0.3, 0.9], "nice": false, "zero": false}}
      }
    },
    {
      "data": {"name": "spectra"},
      "mark": {"type": "line", "strokeWidth": 2, "clip": true},
      "encoding": {
        "x": {
          "field": "x", "type": "quantitative", "title": "Wavenumber (cm⁻¹)",
          "scale": {"domain": [2400, 1967], "nice": false, "zero": false},
          "axis": {
            "values": [2400, 2370, 2340, 2310, 2280, 2250, 2220, 2190, 2160, 2130, 2100, 2070, 2040, 2010, 1980],
            "format": "d",
            "labelExpr": "datum.value % 60 == 0 ? datum.label : ''",
            "tickSize": {"condition": {"test": "datum.value % 60 == 0", "value": 10}, "value": 5},
            "labelFontSize": 26,
            "labelPadding": 8,
            "labelFlush": false,
            "labelOverlap": false,
            "titleFontSize": 31,
            "titlePadding": 17
          }
        },
        "y": {
          "field": "y", "type": "quantitative", "title": "mΔOD",
          "scale": {"domain": [-0.3, 0.9], "nice": false, "zero": false},
          "axis": {
            "values": [-0.3, -0.2, -0.1, 0, 0.1, 0.2, 0.3, 0.4, 0.5, 0.6, 0.7, 0.8, 0.9],
            "labelExpr": "abs(round(datum.value*10)) % 2 == 0 ? (datum.value < 0 ? '-' + format(-datum.value, '.1f') : format(datum.value, '.1f')) : ''",
            "tickSize": {"condition": {"test": "abs(round(datum.value*10)) % 2 == 0", "value": 10}, "value": 5},
            "labelFontSize": 25,
            "labelPadding": 6,
            "labelFlush": false,
            "labelOverlap": false,
            "titleFontSize": 30,
            "titlePadding": 26
          }
        },
        "color": {
          "field": "s", "type": "nominal",
          "scale": {
            "domain": ["-4 ps", "0.2 ps", "0.6 ps", "1 ps", "5 ps", "10 ps", "50 ps", "100 ps", "500 ps", "1 ns", "3 ns", "5 ns"],
            "range": ["#9600C8", "#2800FF", "#1E96FF", "#1EF0B4", "#64FF00", "#DCFF00", "#FFC800", "#FF5A00", "#FF1E1E", "#F50A0A", "#C80000", "#8C1414"]
          },
          "legend": {
            "title": null,
            "orient": "none",
            "legendX": 513.5,
            "legendY": 28,
            "padding": 0,
            "symbolType": "M-2,0H2",
            "symbolSize": 625,
            "symbolStrokeWidth": 2,
            "labelFontSize": 22,
            "labelFont": "Liberation Sans",
            "labelColor": "black",
            "labelOffset": 18.5,
            "labelLimit": 300,
            "rowPadding": 2.3
          }
        }
      }
    },
    {
      "data": {"name": "leaders"},
      "mark": {"type": "rule", "color": "#222222", "strokeWidth": 1.2},
      "encoding": {
        "x": {"field": "x", "type": "quantitative", "title": "Wavenumber (cm⁻¹)", "scale": {"domain": [2400, 1967], "nice": false, "zero": false}},
        "x2": {"field": "x2"},
        "y": {"field": "y", "type": "quantitative", "title": "mΔOD", "scale": {"domain": [-0.3, 0.9], "nice": false, "zero": false}},
        "y2": {"field": "y2"}
      }
    },
    {
      "data": {"name": "peaks"},
      "mark": {"type": "text", "fontSize": 21, "font": "Liberation Sans", "color": "black", "align": "center", "baseline": "middle"},
      "encoding": {
        "x": {"field": "x", "type": "quantitative", "title": "Wavenumber (cm⁻¹)", "scale": {"domain": [2400, 1967], "nice": false, "zero": false}},
        "y": {"field": "y", "type": "quantitative", "title": "mΔOD", "scale": {"domain": [-0.3, 0.9], "nice": false, "zero": false}},
        "text": {"field": "t"}
      }
    },
    {
      "data": {"name": "title"},
      "mark": {"type": "text", "fontSize": 24.5, "font": "Liberation Sans", "color": "black", "align": "left", "baseline": "middle"},
      "encoding": {
        "x": {"field": "x", "type": "quantitative", "title": "Wavenumber (cm⁻¹)", "scale": {"domain": [2400, 1967], "nice": false, "zero": false}},
        "y": {"field": "y", "type": "quantitative", "title": "mΔOD", "scale": {"domain": [-0.3, 0.9], "nice": false, "zero": false}},
        "text": {"field": "t"}
      }
    }
  ]
}
